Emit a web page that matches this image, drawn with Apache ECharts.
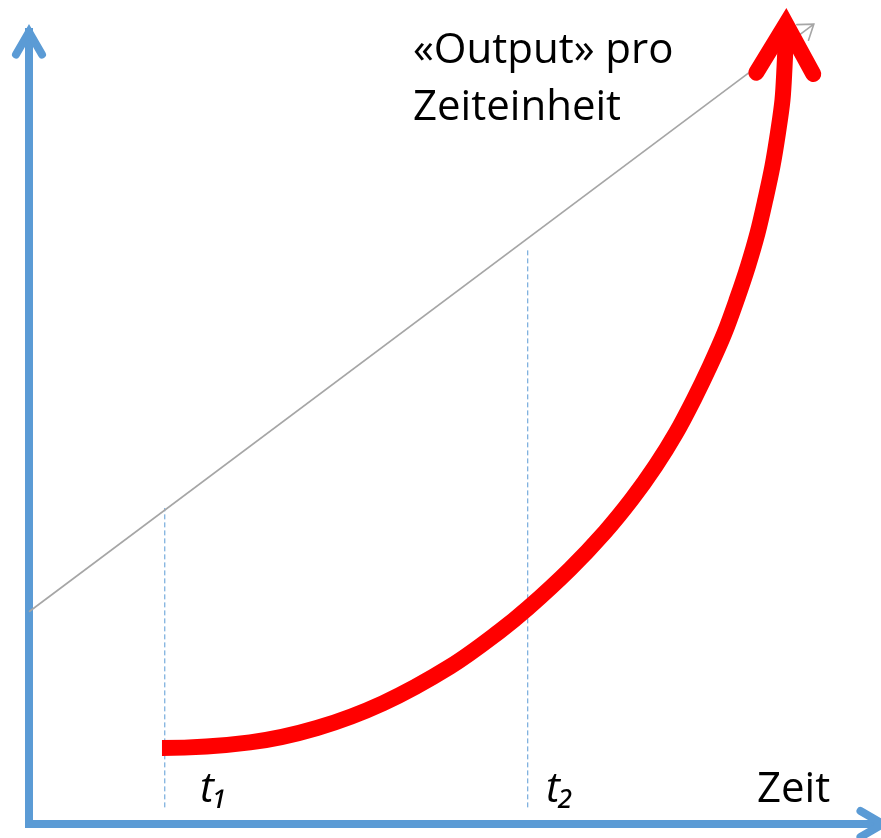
<!DOCTYPE html>
<html><head><meta charset="utf-8">
<script src="https://cdn.jsdelivr.net/npm/echarts@6/dist/echarts.min.js"></script>
<style>html,body{margin:0;padding:0;background:#fff}#c{width:881px;height:838px}</style>
</head><body><div id="c"></div>
<script>
// ---- data (abstract units: x = Zeit 0..100, y = Output 0..100) ----
const timeMin = 0, timeMax = 100, outMin = 0, outMax = 100;
// red curve: output per time unit (smooth curve through these points)
const redX = [15.57, 25.88, 33.72, 41.45, 49.30, 55.15, 58.43, 63.35, 67.45, 70.61, 73.36, 75.76, 77.87, 79.74, 81.44, 82.90, 84.19, 85.31, 86.24, 87.06, 87.70, 88.23, 88.47, 88.58, 88.64];
const redY = [9.60, 10.30, 12.12, 15.25, 19.87, 24.37, 27.26, 32.18, 36.87, 41.04, 45.20, 49.37, 53.66, 57.83, 61.99, 66.29, 70.45, 74.62, 78.91, 83.08, 87.25, 91.41, 95.58, 98.36, 101.01];
// grey straight reference line
const grayX = [0, 91.9];
const grayY = [26.8, 101.0];
// time marks t1, t2 (dashed verticals)
const tMarks = [15.9, 58.4];
const tTop = [39.9, 72.5];
const tBottom = [2.1, 2.1];
const tLabels = ['t\u2081', 't\u2082'];
const yTitle = '«Output» pro\nZeiteinheit';
const xTitle = 'Zeit';

// ---- styles ----
const BLUE = '#5b9bd5', RED = '#ff0000', GREY = '#a6a6a6';
const FONT = '"Open Sans", "Noto Sans", sans-serif';

function arrowHead(tip, from, len, angleDeg, width, color, z) {
  return {
    type: 'custom', z: z, silent: true, animation: false, clip: false,
    data: [[tip[0], tip[1], from[0], from[1]]],
    encode: { x: 0, y: 1 },
    renderItem: function (params, api) {
      const p1 = api.coord([api.value(0), api.value(1)]);
      const p0 = api.coord([api.value(2), api.value(3)]);
      let dx = p0[0] - p1[0], dy = p0[1] - p1[1];
      const L = Math.hypot(dx, dy); dx /= L; dy /= L;
      const a = angleDeg * Math.PI / 180, c = Math.cos(a), s = Math.sin(a);
      const w1 = [p1[0] + len * (dx * c - dy * s), p1[1] + len * (dx * s + dy * c)];
      const w2 = [p1[0] + len * (dx * c + dy * s), p1[1] + len * (-dx * s + dy * c)];
      return { type: 'polyline', shape: { points: [w1, p1, w2] },
        style: { stroke: color, lineWidth: width, fill: null, lineCap: 'round', lineJoin: 'miter', miterLimit: 10 } };
    }
  };
}

const redData = redX.map((x, i) => [x, redY[i]]);
const grayData = grayX.map((x, i) => [x, grayY[i]]);
const nR = redData.length;

// smooth red curve (Catmull-Rom -> cubic Bezier), horizontal start tangent
const redCurve = {
  type: 'custom', z: 5, silent: true, animation: false, clip: false,
  data: redData, encode: { x: 0, y: 1 },
  renderItem: function (params, api) {
    if (params.dataIndex !== 0) return null;
    const P = redData.map(d => api.coord(d));
    const n = P.length;
    const tan = P.map((p, i) => {
      if (i === 0) return [(P[1][0] - P[0][0]), 0];
      if (i === n - 1) return [P[n - 1][0] - P[n - 2][0], P[n - 1][1] - P[n - 2][1]];
      return [(P[i + 1][0] - P[i - 1][0]) / 2, (P[i + 1][1] - P[i - 1][1]) / 2];
    });
    let d = 'M' + P[0][0] + ' ' + P[0][1];
    for (let i = 0; i < n - 1; i++) {
      const c1 = [P[i][0] + tan[i][0] / 3, P[i][1] + tan[i][1] / 3];
      const c2 = [P[i + 1][0] - tan[i + 1][0] / 3, P[i + 1][1] - tan[i + 1][1] / 3];
      d += ' C' + c1[0] + ' ' + c1[1] + ' ' + c2[0] + ' ' + c2[1] + ' ' + P[i + 1][0] + ' ' + P[i + 1][1];
    }
    return { type: 'path', shape: { pathData: d },
      style: { stroke: RED, lineWidth: 16, fill: null, lineCap: 'butt', lineJoin: 'round' } };
  }
};

const series = [];
tMarks.forEach((t, i) => {
  series.push({ type: 'line', data: [[t, tBottom[i]], [t, tTop[i]]], showSymbol: false, clip: false, silent: true,
    lineStyle: { color: BLUE, width: 1, type: [5, 3] }, z: 1, animation: false });
});
series.push({ type: 'line', data: grayData, showSymbol: false, clip: false, silent: true,
  lineStyle: { color: GREY, width: 1.6 }, z: 2, animation: false });
series.push(arrowHead(grayData[1], grayData[0], 17, 35, 1.6, GREY, 2));
series.push(redCurve);
series.push(arrowHead(redData[nR - 1], redData[nR - 2], 57, 30, 16, RED, 6));
series.push(arrowHead([timeMin, outMax], [timeMin, outMin], 26, 30, 8, BLUE, 7));
series.push(arrowHead([timeMax, outMin], [timeMin, outMin], 26, 30, 8, BLUE, 7));

const chart = echarts.init(document.getElementById('c'), null, { renderer: 'canvas' });
chart.setOption({
  animation: false,
  backgroundColor: '#ffffff',
  grid: { left: 29, right: -2, top: 32, bottom: 14, containLabel: false, outerBoundsMode: 'none' },
  xAxis: { type: 'value', min: timeMin, max: timeMax,
    axisLine: { show: true, onZero: false, lineStyle: { color: BLUE, width: 8, cap: 'square' } },
    axisTick: { show: false }, axisLabel: { show: false }, splitLine: { show: false } },
  yAxis: { type: 'value', min: outMin, max: outMax,
    axisLine: { show: true, onZero: false, lineStyle: { color: BLUE, width: 8, cap: 'square' } },
    axisTick: { show: false }, axisLabel: { show: false }, splitLine: { show: false } },
  graphic: [
    { type: 'text', x: 413, y: 23, z: 10, style: { text: yTitle, font: '42px ' + FONT, fill: '#000', align: 'left', verticalAlign: 'top', lineHeight: 57 } },
    { type: 'text', x: 757, y: 790, z: 10, style: { text: xTitle, font: '42px ' + FONT, fill: '#000', align: 'left', verticalAlign: 'middle' } },
    { type: 'text', x: 200, y: 790, z: 10, style: { text: tLabels[0], font: 'italic 42px ' + FONT, fill: '#000', align: 'left', verticalAlign: 'middle' } },
    { type: 'text', x: 546, y: 790, z: 10, style: { text: tLabels[1], font: 'italic 42px ' + FONT, fill: '#000', align: 'left', verticalAlign: 'middle' } }
  ],
  series: series
});
</script></body></html>
